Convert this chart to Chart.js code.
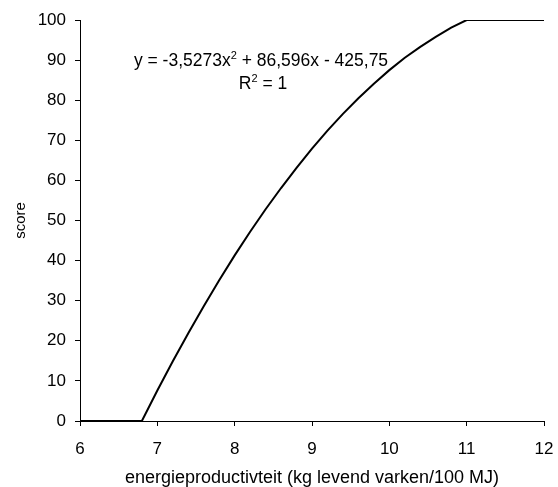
<!DOCTYPE html>
<html>
<head>
<meta charset="utf-8">
<script src="https://cdn.jsdelivr.net/npm/chart.js@4"></script>
<style>
    html, body { margin: 0; padding: 0; background: #fff; }
    #wrap { width: 558px; height: 487px; }
</style>
</head>
<body>
<div id="wrap"><canvas id="myChart" width="558" height="487"></canvas></div>
<script>
// energy productivity (kg live pig / 100 MJ) and the score
var energyValues = [6, 6.8, 7.0, 7.2, 7.4, 7.6, 7.8, 8.0, 8.2, 8.4, 8.6, 8.8, 9.0,
    9.2, 9.4, 9.6, 9.8, 10.0, 10.2, 10.4, 10.6, 10.8, 11.0, 12];
var scoreValues = [0, 0, 7.6, 14.9, 21.9, 28.6, 35.1, 41.3, 47.2, 52.8, 58.1, 63.1, 67.9,
    72.4, 76.6, 80.5, 84.1, 87.5, 90.6, 93.3, 95.8, 98.1, 100, 100];

var xTicks = [6, 7, 8, 9, 10, 11, 12];
var yTicks = [0, 10, 20, 30, 40, 50, 60, 70, 80, 90, 100];

var trendLine1 = ['y = -3,5273x', '2', ' + 86,596x - 425,75'];
var trendLine2 = ['R', '2', ' = 1'];

var fontFamily = '"Liberation Sans", Arial, sans-serif';

// draws the trendline equation with superscripts
var equationPlugin = {
    id: 'equation',
    afterDraw: function (chart) {
        var ctx = chart.ctx;
        var area = chart.chartArea;

        function drawLine(parts, cx, baseline) {
            var big = '17.5px ' + fontFamily;
            var small = '11px ' + fontFamily;
            ctx.font = big;
            var w0 = ctx.measureText(parts[0]).width;
            var w2 = ctx.measureText(parts[2]).width;
            ctx.font = small;
            var w1 = ctx.measureText(parts[1]).width;
            var x = cx - (w0 + w1 + w2) / 2;
            ctx.fillStyle = '#000';
            ctx.textBaseline = 'alphabetic';
            ctx.textAlign = 'left';
            ctx.font = big;
            ctx.fillText(parts[0], x, baseline);
            ctx.font = small;
            ctx.fillText(parts[1], x + w0, baseline - 7);
            ctx.font = big;
            ctx.fillText(parts[2], x + w0 + w1, baseline);
        }

        ctx.save();
        drawLine(trendLine1, area.left + 181, area.top + 46);
        drawLine(trendLine2, area.left + 183, area.top + 69);
        ctx.restore();
    }
};

var points = energyValues.map(function (x, i) {
    return { x: x, y: scoreValues[i] };
});

var ctx = document.getElementById('myChart').getContext('2d');
var myChart = new Chart(ctx, {
    type: 'line',
    data: {
        datasets: [{
            data: points,
            borderColor: '#000',
            borderWidth: 2,
            pointRadius: 0,
            tension: 0,
            fill: false
        }]
    },
    options: {
        responsive: false,
        animation: false,
        layout: { padding: { top: 20, right: 14, left: 0, bottom: 0 } },
        plugins: {
            legend: { display: false },
            tooltip: { enabled: false }
        },
        scales: {
            x: {
                type: 'linear',
                min: 6,
                max: 12,
                afterBuildTicks: function (scale) {
                    scale.ticks = xTicks.map(function (v) { return { value: v }; });
                },
                afterFit: function (scale) {
                    scale.height = 66;
                    scale.paddingLeft = 0;
                    scale.paddingRight = 0;
                },
                ticks: {
                    color: '#000',
                    font: { family: fontFamily, size: 17 },
                    padding: 13,
                    maxRotation: 0
                },
                grid: {
                    drawOnChartArea: false,
                    drawTicks: true,
                    tickLength: 5,
                    color: '#000'
                },
                border: { color: '#000', width: 1 },
                title: {
                    display: true,
                    text: 'energieproductivteit (kg levend varken/100 MJ)',
                    color: '#000',
                    font: { family: fontFamily, size: 18 },
                    padding: { top: 0, bottom: -2 }
                }
            },
            y: {
                min: 0,
                max: 100,
                afterBuildTicks: function (scale) {
                    scale.ticks = yTicks.map(function (v) { return { value: v }; });
                },
                afterFit: function (scale) {
                    scale.width = 80;
                    scale.paddingTop = 0;
                    scale.paddingBottom = 0;
                },
                ticks: {
                    color: '#000',
                    font: { family: fontFamily, size: 17 },
                    padding: 9
                },
                grid: {
                    drawOnChartArea: false,
                    drawTicks: true,
                    tickLength: 5,
                    color: '#000'
                },
                border: { color: '#000', width: 1 },
                title: {
                    display: true,
                    text: 'score',
                    color: '#000',
                    font: { family: fontFamily, size: 15 },
                    padding: { top: 12, bottom: 0 }
                }
            }
        }
    },
    plugins: [equationPlugin]
});
</script>
</body>
</html>
